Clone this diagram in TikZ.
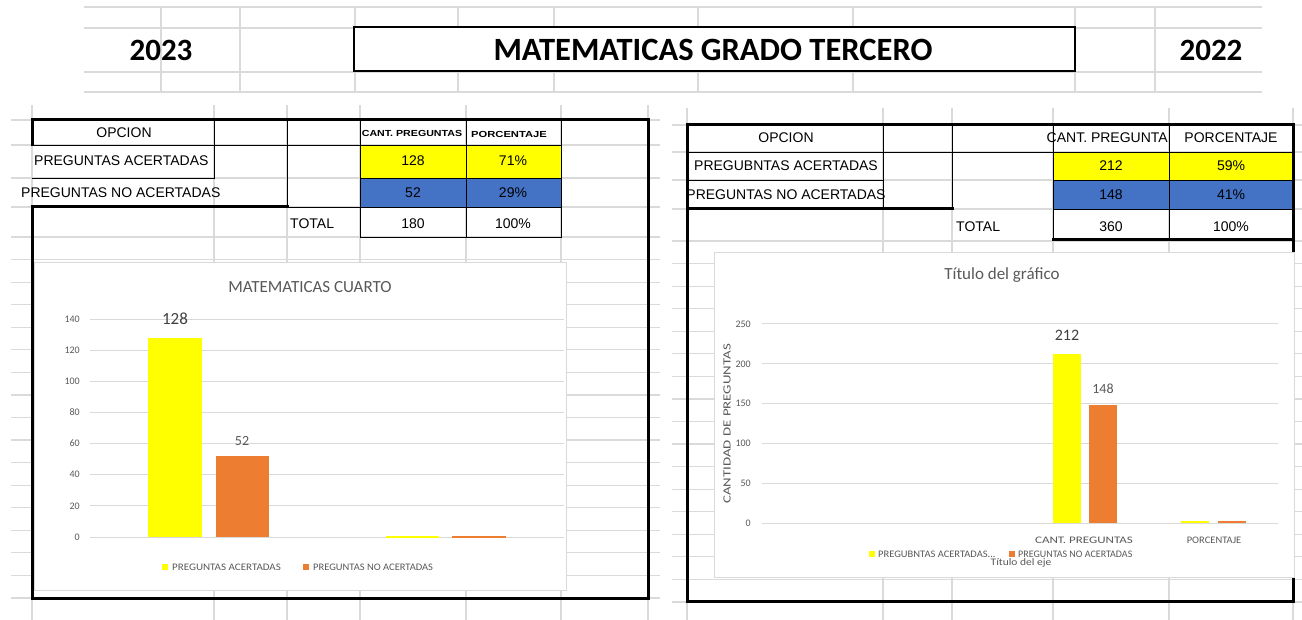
\documentclass[tikz,border=0pt]{standalone}
\usepackage{fontspec}
\setmainfont{Carlito}
\newfontfamily\tabfont{Liberation Sans}
\definecolor{sgrid}{HTML}{DADADA}
\definecolor{cgrid}{HTML}{D9D9D9}
\definecolor{axgray}{HTML}{595959}
\definecolor{dgray}{HTML}{404040}
\definecolor{xlyellow}{HTML}{FFFF00}
\definecolor{xlorange}{HTML}{ED7D31}
\definecolor{xlblue}{HTML}{4472C4}
\tikzset{
  sheetline/.style={draw=sgrid, line width=1.2pt},
  heavy/.style={draw=black, line width=3pt, line cap=rect},
  cell/.style={draw=black, line width=0.9pt},
  tabtxt/.style={font=\tabfont\fontsize{14}{16}\selectfont, inner sep=0},
  smallhead/.style={font=\tabfont\bfseries\fontsize{8}{9}\selectfont, inner sep=0},
  chartgrid/.style={draw=cgrid, line width=1pt},
  chartbox/.style={draw=cgrid, fill=white, line width=1pt},
  axlab/.style={font=\fontsize{10}{12}\selectfont, text=axgray, inner sep=0, anchor=east},
  leglab/.style={font=\fontsize{10}{12}\selectfont, text=axgray, inner sep=0, anchor=west},
  datalab/.style={text=dgray, inner sep=0},
  bigtxt/.style={font=\bfseries\fontsize{31}{36}\selectfont, inner sep=0}
}
\begin{document}
\begin{tikzpicture}[x=1pt,y=-1pt]
\useasboundingbox (0,0) rectangle (1302,620);
\fill[white] (0,0) rectangle (1302,620);

% ---------- header grid ----------
\foreach \yy in {7,28,72,92} \draw[sheetline] (84,\yy) -- (1262,\yy);
\foreach \xx in {161,240,355,458,554,698,853,1075,1155} \draw[sheetline] (\xx,7) -- (\xx,92);
\draw[draw=black, line width=2.5pt, fill=white] (354,27) rectangle (1075,71);
\node[bigtxt, font=\bfseries\fontsize{32.5}{36}\selectfont] (title) at (713,50) {MATEMATICAS GRADO TERCERO};
\node[bigtxt] (y2023) at (161,50) {2023};
\node[bigtxt] (y2022) at (1211,50) {2022};

% ---------- left sheet grid ----------
\foreach \yy in {120,145,178,207,237} \draw[sheetline] (11,\yy) -- (660,\yy);
\foreach \k in {1,...,16} \draw[sheetline] (11,{237+22.56*\k}) -- (660,{237+22.56*\k});
\foreach \xx in {32,214,287,360,466,561,648} \draw[sheetline] (\xx,105) -- (\xx,620);

% ---------- right sheet grid ----------
\foreach \yy in {125,152,180,209} \draw[sheetline] (672,\yy) -- (1302,\yy);
\foreach \k in {0,...,16} \draw[sheetline] (672,{241+22.56*\k}) -- (1302,{241+22.56*\k});
\foreach \xx in {687,883,952,1053,1169,1293} \draw[sheetline] (\xx,108) -- (\xx,620);

% ---------- left table ----------
\fill[xlyellow] (360,145) rectangle (561,178);
\fill[xlblue] (360,178) rectangle (561,207);
\draw[cell] (32,120) rectangle (214,145);
\draw[cell] (214,120) rectangle (287,145);
\draw[cell] (287,120) rectangle (360,145);
\draw[cell] (360,120) rectangle (466,145);
\draw[cell] (466,120) rectangle (561,145);
\draw[cell] (214,145) -- (214,178) -- (32,178);
\draw[cell] (287,145) -- (287,207);
\draw[cell] (360,145) rectangle (466,178);
\draw[cell] (466,145) rectangle (561,178);
\draw[cell] (360,178) rectangle (466,207);
\draw[cell] (466,178) rectangle (561,207);
\draw[cell] (360,207) rectangle (466,237);
\draw[cell] (466,207) rectangle (561,237);
\draw[heavy] (32,145) -- (32,120) -- (648,120) -- (648,598) -- (32,598) -- (32,207) -- (287,207);
\draw[cell] (287,207) -- (360,207);

\node[tabtxt] (lopc) at (124,133) {OPCION};
\node[smallhead] (lcant) at (412,133) {\scalebox{1.33}[1.1]{CANT. PREGUNTAS}};
\node[smallhead] (lporc) at (509,134) {\scalebox{1.4}[1.1]{PORCENTAJE}};
\node[tabtxt, anchor=west] (lacert) at (34,161) {PREGUNTAS ACERTADAS};
\node[tabtxt, anchor=west] (lnoac) at (21,193) {PREGUNTAS NO ACERTADAS};
\node[tabtxt, anchor=west] (ltot) at (290,224) {TOTAL};
\node[tabtxt] (l128) at (413,161) {128};
\node[tabtxt] (l71) at (513,161) {71\%};
\node[tabtxt] (l52) at (413,193) {52};
\node[tabtxt] (l29) at (513,193) {29\%};
\node[tabtxt] (l180) at (413,224) {180};
\node[tabtxt] (l100) at (513,224) {100\%};

% ---------- right table ----------
\fill[xlyellow] (1053,152) rectangle (1293,180);
\fill[xlblue] (1053,180) rectangle (1293,209);
\draw[cell] (687,125) rectangle (883,152);
\draw[cell] (883,125) rectangle (952,152);
\draw[cell] (952,125) rectangle (1053,152);
\draw[cell] (1053,125) rectangle (1169,152);
\draw[cell] (1169,125) rectangle (1293,152);
\draw[cell] (687,152) rectangle (883,180);
\draw[cell] (883,180) -- (883,209);
\draw[cell] (952,152) -- (952,209);
\draw[cell] (1053,152) rectangle (1169,180);
\draw[cell] (1169,152) rectangle (1293,180);
\draw[cell] (1053,180) rectangle (1169,209);
\draw[cell] (1169,180) rectangle (1293,209);
\draw[cell] (1053,209) rectangle (1169,240);
\draw[cell] (1169,209) rectangle (1293,240);
\draw[heavy] (1293,125) -- (687,125) -- (687,601) -- (1293,601) -- (1293,125);
\draw[heavy] (687,209) -- (952,209);
\draw[heavy] (1053,240) -- (1293,240);

\node[tabtxt] (ropc) at (786,138) {OPCION};
\node[tabtxt, anchor=east] (rcant) at (1168,138) {CANT. PREGUNTA};
\node[tabtxt] (rporc) at (1231,138) {PORCENTAJE};
\node[tabtxt] (racert) at (786,166) {PREGUBNTAS ACERTADAS};
\node[tabtxt] (rnoac) at (786,195) {PREGUNTAS NO ACERTADAS};
\node[tabtxt, anchor=west] (rtot) at (956,227) {TOTAL};
\node[tabtxt] (r212) at (1111,166) {212};
\node[tabtxt] (r59) at (1231,166) {59\%};
\node[tabtxt] (r148) at (1111,195) {148};
\node[tabtxt] (r41) at (1231,195) {41\%};
\node[tabtxt] (r360) at (1111,227) {360};
\node[tabtxt] (r100) at (1231,227) {100\%};

% ---------- left chart ----------
\draw[chartbox] (34,263) rectangle (566,590);
\node[text=axgray, font=\fontsize{17}{20}\selectfont, inner sep=0] (lct) at (310,287) {MATEMATICAS CUARTO};
\foreach \v in {0,20,...,140} {
  \draw[chartgrid] (90,{537-1.557*\v}) -- (564,{537-1.557*\v});
  \node[axlab] (lyl\v) at (80,{537-1.557*\v}) {\v};
}
\fill[xlyellow] (148,{537-1.557*128}) rectangle (202,537);
\fill[xlorange] (216,{537-1.557*52}) rectangle (269,537);
\fill[xlyellow] (386,535.5) rectangle (439,537.5);
\fill[xlorange] (452,535.5) rectangle (506,537.5);
\node[datalab, font=\fontsize{17}{20}\selectfont] (lb128) at (175,319) {128};
\node[datalab, font=\fontsize{14}{16}\selectfont, text=axgray] (lb52) at (242,441) {52};
\fill[xlyellow] (162,564) rectangle (168,570);
\node[leglab] (lleg1) at (172,567) {\scalebox{1.1}[1]{PREGUNTAS ACERTADAS}};
\fill[xlorange] (303,564) rectangle (309,570);
\node[leglab] (lleg2) at (313,567) {\scalebox{1.05}[1]{PREGUNTAS NO ACERTADAS}};

% ---------- right chart ----------
\draw[chartbox] (714,253) rectangle (1294,577);
\node[text=axgray, font=\fontsize{17}{20}\selectfont, inner sep=0] (rct) at (1002,275) {Título del gráfico};
\foreach \v in {0,50,...,250} {
  \draw[chartgrid] (762,{523-0.796*\v}) -- (1278,{523-0.796*\v});
  \node[axlab] (ryl\v) at (751,{523-0.796*\v}) {\v};
}
\node[text=axgray, font=\fontsize{11}{12}\selectfont, inner sep=0, rotate=90] (raxt) at (727,424) {\scalebox{1.35}[1]{CANTIDAD DE PREGUNTAS}};
\fill[xlyellow] (1053,{523-0.796*212}) rectangle (1081,523);
\fill[xlorange] (1089,{523-0.796*148}) rectangle (1117,523);
\fill[xlyellow] (1181,520.5) rectangle (1209,523);
\fill[xlorange] (1218,520.5) rectangle (1246,523);
\node[datalab, font=\fontsize{16}{18}\selectfont] (rb212) at (1067,335) {212};
\node[datalab, font=\fontsize{14}{16}\selectfont, text=axgray] (rb148) at (1103,389) {148};
\node[text=axgray, font=\fontsize{10}{12}\selectfont, inner sep=0] (rcat1) at (1084,540) {\scalebox{1.3}[1]{CANT. PREGUNTAS}};
\node[text=axgray, font=\fontsize{10}{12}\selectfont, inner sep=0] (rcat2) at (1214,540) {\scalebox{1.05}[1]{PORCENTAJE}};
\fill[xlyellow] (869,551) rectangle (875,557);
\node[leglab] (rleg1) at (878,554) {\scalebox{1.05}[1]{PREGUBNTAS ACERTADAS...}};
\node[text=axgray, font=\fontsize{10}{12}\selectfont, inner sep=0] (rxt) at (1021,563) {\scalebox{1.15}[1]{Título del eje}};
\fill[xlorange] (1009,551) rectangle (1015,557);
\node[leglab] (rleg2) at (1018,554) {PREGUNTAS NO ACERTADAS};
\end{tikzpicture}
\end{document}
